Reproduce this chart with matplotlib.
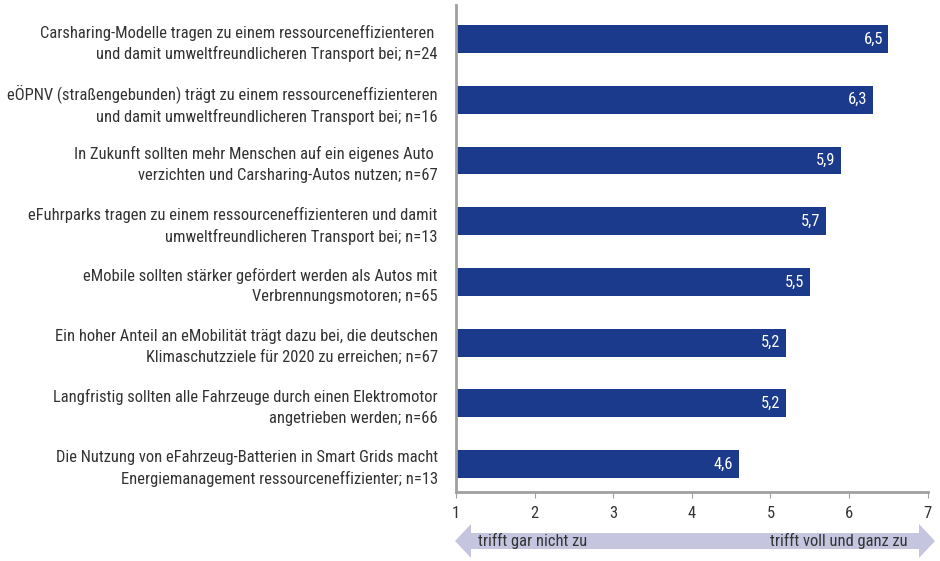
import matplotlib.pyplot as plt
from matplotlib.patches import FancyArrow
from matplotlib import font_manager

# pick a condensed face if one is installed
fonts = font_manager.fontManager.ttflist
names = {f.name for f in fonts}
fam = "Liberation Sans"
fsize = 10.3
for cand in ["Roboto Condensed", "Liberation Sans Narrow", "Open Sans Condensed"]:
    if cand in names:
        fam, fsize = cand, 11.85
        break
plt.rcParams["font.family"] = [fam, "DejaVu Sans"]

statements = [
    "Carsharing-Modelle tragen zu einem ressourceneffizienteren \nund damit umweltfreundlicheren Transport bei; n=24",
    "eÖPNV (straßengebunden) trägt zu einem ressourceneffizienteren\nund damit umweltfreundlicheren Transport bei; n=16",
    "In Zukunft sollten mehr Menschen auf ein eigenes Auto \nverzichten und Carsharing-Autos nutzen; n=67",
    "eFuhrparks tragen zu einem ressourceneffizienteren und damit\numweltfreundlicheren Transport bei; n=13",
    "eMobile sollten stärker gefördert werden als Autos mit\nVerbrennungsmotoren; n=65",
    "Ein hoher Anteil an eMobilität trägt dazu bei, die deutschen\nKlimaschutzziele für 2020 zu erreichen; n=67",
    "Langfristig sollten alle Fahrzeuge durch einen Elektromotor\nangetrieben werden; n=66",
    "Die Nutzung von eFahrzeug-Batterien in Smart Grids macht\nEnergiemanagement ressourceneffizienter; n=13",
]
means = [6.5, 6.3, 5.9, 5.7, 5.5, 5.2, 5.2, 4.6]
xticks = [1, 2, 3, 4, 5, 6, 7]
scale_low = "trifft gar nicht zu"
scale_high = "trifft voll und ganz zu"

bar_color = "#1c3a8c"
grey = "#a0a0a0"
text_color = "#333333"
arrow_color = "#c5c5e0"

fig = plt.figure(figsize=(9.4, 5.61), dpi=100)
ax = fig.add_axes([0.485, 0.123, 0.502, 0.868])

ypos = list(range(len(statements)))
ax.barh(ypos, [m - 1 for m in means], left=1, height=0.46, color=bar_color)
for y, m in zip(ypos, means):
    ax.text(m - 0.07, y, f"{m:.1f}".replace(".", ","), color="white",
            ha="right", va="center", fontsize=fsize)

ax.set_xlim(1, 7)
ax.set_ylim(7.46, -0.56)
ax.set_xticks(xticks)
ax.set_xticklabels([str(t) for t in xticks], fontsize=fsize, color=text_color)
ax.set_yticks(ypos)
ax.set_yticklabels(statements, fontsize=fsize, color=text_color, linespacing=1.45)
ax.tick_params(axis="y", length=0, pad=13)
ax.tick_params(axis="x", length=4, color=grey, pad=6)
for s in ["top", "right"]:
    ax.spines[s].set_visible(False)
for s in ["left", "bottom"]:
    ax.spines[s].set_color(grey)
    ax.spines[s].set_linewidth(2)

# two-headed scale arrow below the axis
arrow_y = 1 - 541 / 561
mid = 700 / 940
for tip in (455 / 940, 935 / 940):
    fig.patches.append(FancyArrow(
        mid, arrow_y, tip - mid, 0, width=16 / 561, head_width=34 / 561,
        head_length=16 / 940, length_includes_head=True, color=arrow_color,
        lw=0, transform=fig.transFigure))
fig.text(478 / 940, arrow_y, scale_low, ha="left", va="center",
         fontsize=fsize, color=text_color)
fig.text(908 / 940, arrow_y, scale_high, ha="right", va="center",
         fontsize=fsize, color=text_color)

fig.savefig("out.png", dpi=100)
